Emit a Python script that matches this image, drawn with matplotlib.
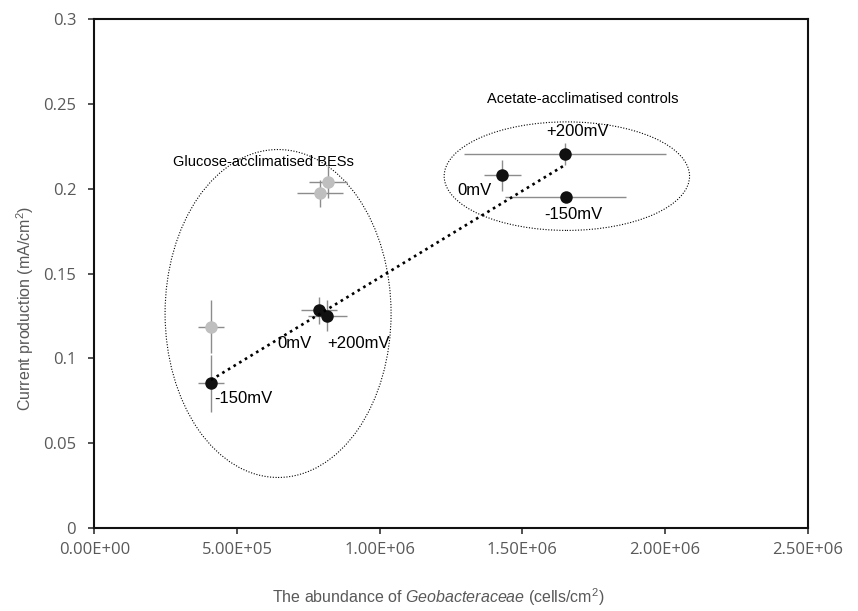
import numpy as np
import matplotlib
matplotlib.use("Agg")
import matplotlib.pyplot as plt
from matplotlib.patches import Ellipse

plt.rcParams['mathtext.fontset'] = 'custom'
plt.rcParams['mathtext.rm'] = 'Liberation Sans'
plt.rcParams['mathtext.it'] = 'Liberation Sans:italic'

# ---- data ----
black_x = [4.09e5, 7.89e5, 8.17e5, 1.43e6, 1.65e6, 1.652e6]
black_y = [0.0853, 0.1285, 0.1252, 0.2081, 0.2203, 0.1952]
black_xerr = [4.6e4, 6.3e4, 6.7e4, 6.4e4, 3.54e5, 2.13e5]
black_yerr = [0.017, 0.0079, 0.0091, 0.0092, 0.0065, 0.0]
black_labels = ['-150mV', '0mV', '+200mV', '0mV', '+200mV', '-150mV']

gray_x = [4.09e5, 7.91e5, 8.18e5]
gray_y = [0.1187, 0.1973, 0.2040]
gray_xerr = [4.6e4, 8.0e4, 6.7e4]
gray_yerr = [0.0157, 0.0080, 0.0094]

xticks = [0, 5e5, 1e6, 1.5e6, 2e6, 2.5e6]
xtick_labels = ['0.00E+00', '5.00E+05', '1.00E+06', '1.50E+06', '2.00E+06', '2.50E+06']
yticks = [0, 0.05, 0.1, 0.15, 0.2, 0.25, 0.3]
ytick_labels = ['0', '0.05', '0.1', '0.15', '0.2', '0.25', '0.3']

# ---- figure ----
W, H = 858, 611
fig = plt.figure(figsize=(W / 100, H / 100), dpi=100)
ax = fig.add_axes([94.3 / W, 1 - 528 / H, (807.7 - 94.3) / W, (528 - 19.3) / H])

ebc = '#8C8C8C'
ax.errorbar(gray_x, gray_y, xerr=gray_xerr, yerr=gray_yerr, fmt='o', color='#BFBFBF',
            ecolor=ebc, elinewidth=1.0, capsize=4, capthick=1.0, markersize=9,
            markeredgewidth=0, zorder=3)
ax.errorbar(black_x, black_y, xerr=black_xerr, yerr=black_yerr, fmt='o', color='#111111',
            ecolor=ebc, elinewidth=1.0, capsize=4, capthick=1.0, markersize=9,
            markeredgewidth=0, zorder=4)

# linear trendline through black points
bx = np.array(black_x)
by = np.array(black_y)
m, b = np.polyfit(bx, by, 1)
tx = np.array([bx.min(), bx.max()])
ax.plot(tx, m * tx + b, color='black', lw=1.9, linestyle=(0, (1, 1.5)), zorder=5)

# group ellipses
ax.add_patch(Ellipse((6.44e5, 0.1265), 7.92e5, 0.1934, fill=False, edgecolor='black',
                     lw=0.8, linestyle=(0, (1, 1.5)), zorder=2))
ax.add_patch(Ellipse((1.656e6, 0.2075), 8.6e5, 0.0640, fill=False, edgecolor='black',
                     lw=0.8, linestyle=(0, (1, 1.5)), zorder=2))

# point labels
label_pos = [(5.22e5, 0.0765), (7.03e5, 0.1089), (9.25e5, 0.1089),
             (1.334e6, 0.1993), (1.695e6, 0.2337), (1.679e6, 0.1846)]
for txt, (px, py) in zip(black_labels, label_pos):
    ax.text(px, py, txt, ha='center', va='center', fontsize=12,
            family='Liberation Sans', color='black', zorder=6)

ax.text(5.91e5, 0.2156, 'Glucose-acclimatised BESs', ha='center', va='center',
        fontsize=10.5, family='Liberation Sans', color='black')
ax.text(1.71e6, 0.2531, 'Acetate-acclimatised controls', ha='center', va='center',
        fontsize=10.5, family='Liberation Sans', color='black')

# axes
ax.set_xlim(0, 2.5e6)
ax.set_ylim(0, 0.3)
ax.set_xticks(xticks)
ax.set_xticklabels(xtick_labels)
ax.set_yticks(yticks)
ax.set_yticklabels(ytick_labels)
tc = '#595959'
ax.tick_params(axis='both', direction='out', length=4, width=1.2, color='#333333',
               labelsize=12, labelcolor=tc)
ax.tick_params(axis='x', pad=6)
ax.tick_params(axis='y', pad=9)
for lab in ax.get_xticklabels() + ax.get_yticklabels():
    lab.set_family('Open Sans')
for s in ax.spines.values():
    s.set_linewidth(1.5)
    s.set_color('#111111')

fig.text(438 / W, 1 - 597 / H,
         r'The abundance of $\mathit{Geobacteraceae}$ (cells/cm$^{2}$)',
         fontsize=11.5, color=tc, family='Liberation Sans', ha='center', va='center')
fig.text(25 / W, 1 - 308 / H, r'Current production (mA/cm$^{2}$)', fontsize=11.5,
         color=tc, family='Liberation Sans', ha='center', va='center', rotation=90)

fig.savefig('out.png', dpi=100)
